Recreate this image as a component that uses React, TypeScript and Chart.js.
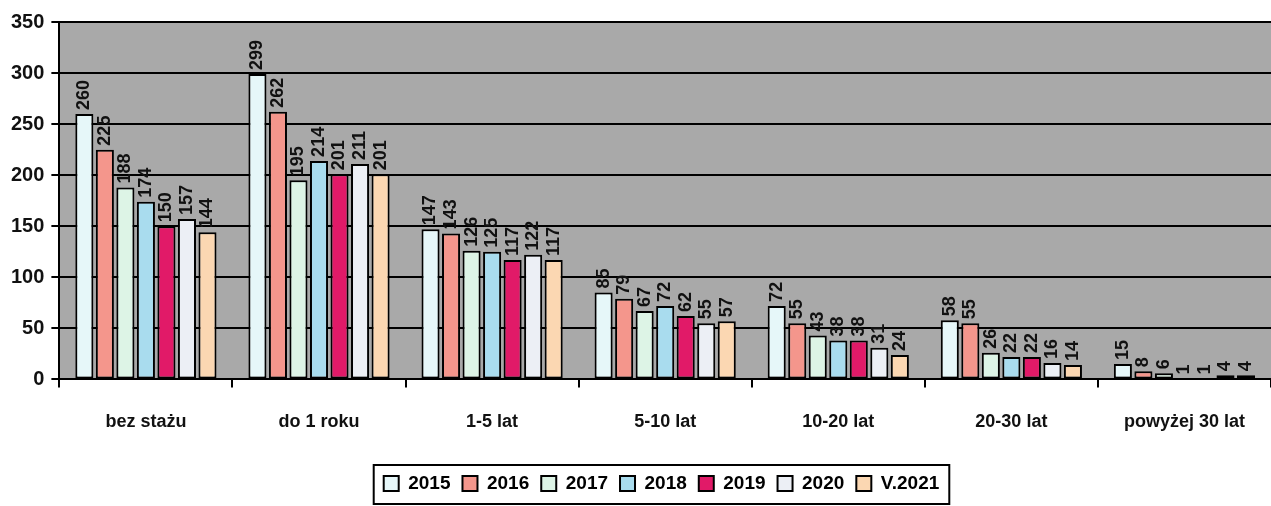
import React, { useEffect, useRef } from "react";
import { Chart, registerables } from "chart.js";

Chart.register(...registerables);

const categories = ["bez stażu", "do 1 roku", "1-5 lat", "5-10 lat", "10-20 lat", "20-30 lat", "powyżej 30 lat"];
const seriesNames = ["2015", "2016", "2017", "2018", "2019", "2020", "V.2021"];
const v2015 = [260, 299, 147, 85, 72, 58, 15];
const v2016 = [225, 262, 143, 79, 55, 55, 8];
const v2017 = [188, 195, 126, 67, 43, 26, 6];
const v2018 = [174, 214, 125, 72, 38, 22, 1];
const v2019 = [150, 201, 117, 62, 38, 22, 1];
const v2020 = [157, 211, 122, 55, 31, 16, 4];
const v2021 = [144, 201, 117, 57, 24, 14, 4];
const yTicks = [0, 50, 100, 150, 200, 250, 300, 350];

const seriesValues = [v2015, v2016, v2017, v2018, v2019, v2020, v2021];
const colors = ["#e6f7f9", "#f4968c", "#ddf4e6", "#a9dcee", "#e11a68", "#eceff5", "#fbd7b2"];

const FONT = "'Liberation Sans', Arial, sans-serif";

const labelPlugin = {
  id: "barLabels",
  afterDatasetsDraw(chart: any) {
    const ctx = chart.ctx;
    ctx.save();
    ctx.font = `bold 18px ${FONT}`;
    ctx.fillStyle = "#111";
    ctx.textAlign = "left";
    ctx.textBaseline = "middle";
    chart.data.datasets.forEach((ds: any, i: number) => {
      const meta = chart.getDatasetMeta(i);
      meta.data.forEach((bar: any, j: number) => {
        ctx.save();
        ctx.translate(bar.x, bar.y - 4);
        ctx.rotate(-Math.PI / 2);
        ctx.fillText(String(ds.data[j]), 0, 0);
        ctx.restore();
      });
    });
    ctx.restore();
  },
};

const bgPlugin = {
  id: "plotBg",
  beforeDraw(chart: any) {
    const { ctx, chartArea } = chart;
    ctx.save();
    ctx.fillStyle = "#a9a9a9";
    ctx.fillRect(chartArea.left, chartArea.top, chartArea.right - chartArea.left, chartArea.bottom - chartArea.top);
    ctx.restore();
  },
};

const LEGEND_SHIFT_X = 24;
const LEGEND_SHIFT_Y = 5;

const legendBoxPlugin = {
  id: "legendBox",
  afterLayout(chart: any) {
    const lg = chart.legend;
    if (!lg) return;
    lg.left += LEGEND_SHIFT_X;
    lg.right += LEGEND_SHIFT_X;
    lg.top += LEGEND_SHIFT_Y;
    lg.bottom += LEGEND_SHIFT_Y;
  },
  afterDraw(chart: any) {
    const lg = chart.legend;
    if (!lg) return;
    const lw = lg.lineWidths && lg.lineWidths.length ? lg.lineWidths[0] : 560;
    const cx = (lg.left + lg.right) / 2;
    const l = cx - lw / 2 - 4;
    const r = cx + lw / 2 + 4;
    const t = lg.top + 3;
    const btm = Math.min(lg.bottom + 1, 504);
    const ctx = chart.ctx;
    ctx.save();
    ctx.strokeStyle = "#000";
    ctx.lineWidth = 2;
    ctx.strokeRect(l, t, r - l, btm - t);
    ctx.restore();
  },
};

export default function App() {
  const ref = useRef<HTMLCanvasElement>(null);
  useEffect(() => {
    document.body.style.margin = "0";
    const chart = new Chart(ref.current as HTMLCanvasElement, {
      type: "bar",
      data: {
        labels: categories,
        datasets: seriesNames.map((name, i) => ({
          label: name,
          data: seriesValues[i],
          backgroundColor: colors[i],
          borderColor: "#000",
          borderWidth: 2,
          borderSkipped: false,
          categoryPercentage: 0.83,
          barPercentage: 0.88,
        })),
      },
      options: {
        animation: false,
        responsive: false,
        maintainAspectRatio: false,
        layout: { padding: { top: 22, right: 0, left: 4, bottom: 8 } },
        plugins: {
          tooltip: { enabled: false },
          legend: {
            position: "bottom",
            labels: {
              font: { family: FONT, size: 19, weight: "bold" },
              color: "#111",
              boxWidth: 15,
              boxHeight: 15,
              padding: 12,
              generateLabels: (chart: any) =>
                chart.data.datasets.map((ds: any, i: number) => ({
                  text: ds.label,
                  fillStyle: colors[i],
                  strokeStyle: "#000",
                  lineWidth: 2,
                  hidden: false,
                  datasetIndex: i,
                })),
            },
          },
        },
        scales: {
          x: {
            offset: true,
            grid: {
              display: true,
              offset: true,
              drawOnChartArea: false,
              drawTicks: true,
              tickLength: 8,
              color: "#000",
              lineWidth: 2,
            },
            border: { display: true, color: "#000", width: 2 },
            ticks: {
              font: { family: FONT, size: 18, weight: "bold" },
              color: "#111",
              padding: 24,
              maxRotation: 0,
            },
          },
          y: {
            min: 0,
            max: 350,
            afterBuildTicks: (axis: any) => {
              axis.ticks = yTicks.map((v) => ({ value: v }));
            },
            grid: {
              color: "#000",
              lineWidth: 2,
              tickLength: 8,
            },
            border: { display: true, color: "#000", width: 2 },
            ticks: {
              font: { family: FONT, size: 20, weight: "bold" },
              color: "#111",
              padding: 7,
            },
          },
        },
      },
      plugins: [bgPlugin, labelPlugin, legendBoxPlugin],
    } as any);
    return () => chart.destroy();
  }, []);
  return (
    <div style={{ position: "absolute", left: 0, top: 0, width: 1271, height: 506, background: "#fff" }}>
      <canvas ref={ref} width={1271} height={506} />
    </div>
  );
}
